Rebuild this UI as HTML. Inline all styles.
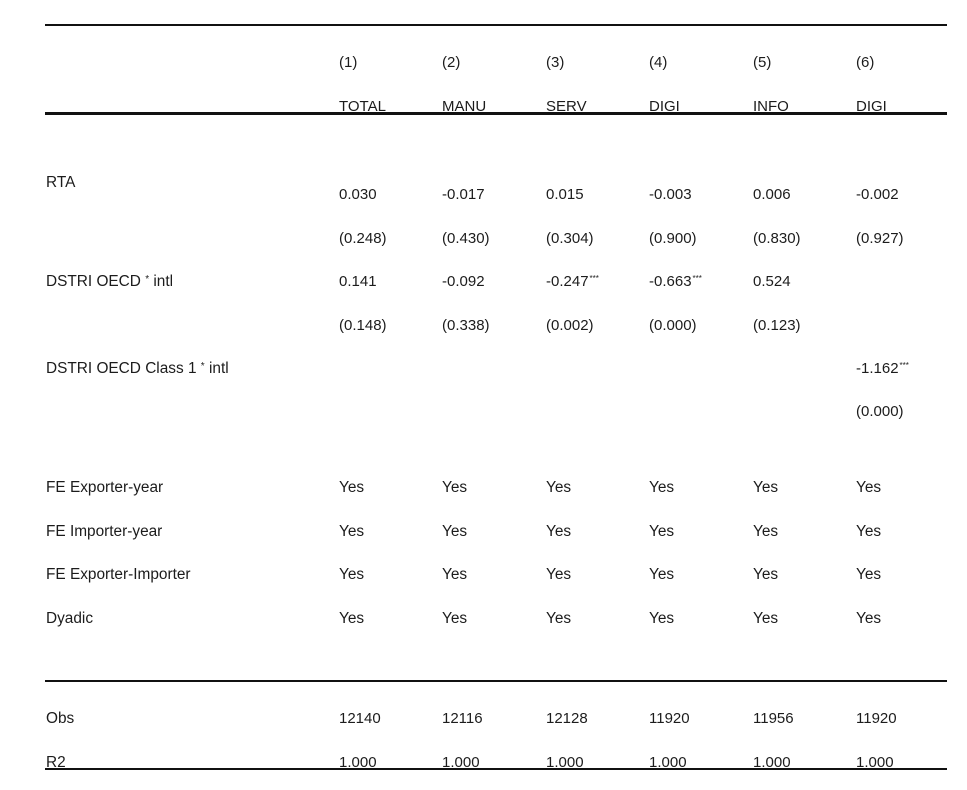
<!DOCTYPE html>
<html>
<head>
<meta charset="utf-8">
<style>
html,body{margin:0;padding:0;background:#fff;}
body{width:967px;height:790px;position:relative;overflow:hidden;font-family:"Liberation Sans",sans-serif;color:#1c1c1c;}
.t{position:absolute;line-height:20px;white-space:nowrap;font-size:15px;margin-top:2px;}
.l{font-size:15.4px;}
.n{font-size:15px;}
sup{font-size:8px;vertical-align:top;position:relative;top:-3px;margin-left:1px;}
.hr{position:absolute;left:45px;width:902px;height:2px;background:#111;}
</style>
</head>
<body>
<div class="hr" style="top:24px;"></div>
<div class="hr" style="top:112px;height:2.5px;"></div>
<div class="hr" style="top:680px;"></div>
<div class="hr" style="top:768px;"></div>

<!-- header -->
<div class="t n" style="left:339px;top:51px;">(1)</div>
<div class="t n" style="left:442px;top:51px;">(2)</div>
<div class="t n" style="left:546px;top:51px;">(3)</div>
<div class="t n" style="left:649px;top:51px;">(4)</div>
<div class="t n" style="left:753px;top:51px;">(5)</div>
<div class="t n" style="left:856px;top:51px;">(6)</div>

<div class="t n" style="left:339px;top:95px;">TOTAL</div>
<div class="t n" style="left:442px;top:95px;">MANU</div>
<div class="t n" style="left:546px;top:95px;">SERV</div>
<div class="t n" style="left:649px;top:95px;">DIGI</div>
<div class="t n" style="left:753px;top:95px;">INFO</div>
<div class="t n" style="left:856px;top:95px;">DIGI</div>

<!-- RTA -->
<div class="t l" style="left:46px;top:171px;">RTA</div>
<div class="t n" style="left:339px;top:183px;">0.030</div>
<div class="t n" style="left:442px;top:183px;">-0.017</div>
<div class="t n" style="left:546px;top:183px;">0.015</div>
<div class="t n" style="left:649px;top:183px;">-0.003</div>
<div class="t n" style="left:753px;top:183px;">0.006</div>
<div class="t n" style="left:856px;top:183px;">-0.002</div>

<div class="t n" style="left:339px;top:227px;">(0.248)</div>
<div class="t n" style="left:442px;top:227px;">(0.430)</div>
<div class="t n" style="left:546px;top:227px;">(0.304)</div>
<div class="t n" style="left:649px;top:227px;">(0.900)</div>
<div class="t n" style="left:753px;top:227px;">(0.830)</div>
<div class="t n" style="left:856px;top:227px;">(0.927)</div>

<!-- DSTRI -->
<div class="t l" style="left:46px;top:270px;">DSTRI OECD <span style="font-size:10px;position:relative;top:-4px;">*</span> intl</div>
<div class="t n" style="left:339px;top:270px;">0.141</div>
<div class="t n" style="left:442px;top:270px;">-0.092</div>
<div class="t n" style="left:546px;top:270px;">-0.247<sup>***</sup></div>
<div class="t n" style="left:649px;top:270px;">-0.663<sup>***</sup></div>
<div class="t n" style="left:753px;top:270px;">0.524</div>

<div class="t n" style="left:339px;top:314px;">(0.148)</div>
<div class="t n" style="left:442px;top:314px;">(0.338)</div>
<div class="t n" style="left:546px;top:314px;">(0.002)</div>
<div class="t n" style="left:649px;top:314px;">(0.000)</div>
<div class="t n" style="left:753px;top:314px;">(0.123)</div>

<!-- DSTRI class 1 -->
<div class="t l" style="left:46px;top:357px;">DSTRI OECD Class 1 <span style="font-size:10px;position:relative;top:-4px;">*</span> intl</div>
<div class="t n" style="left:856px;top:357px;">-1.162<sup>***</sup></div>
<div class="t n" style="left:856px;top:400px;">(0.000)</div>

<!-- FE -->
<div class="t l" style="left:46px;top:476px;">FE Exporter-year</div>
<div class="t l" style="left:46px;top:520px;">FE Importer-year</div>
<div class="t l" style="left:46px;top:563px;">FE Exporter-Importer</div>
<div class="t l" style="left:46px;top:607px;">Dyadic</div>

<div class="t l" style="left:339px;top:476px;">Yes</div>
<div class="t l" style="left:442px;top:476px;">Yes</div>
<div class="t l" style="left:546px;top:476px;">Yes</div>
<div class="t l" style="left:649px;top:476px;">Yes</div>
<div class="t l" style="left:753px;top:476px;">Yes</div>
<div class="t l" style="left:856px;top:476px;">Yes</div>

<div class="t l" style="left:339px;top:520px;">Yes</div>
<div class="t l" style="left:442px;top:520px;">Yes</div>
<div class="t l" style="left:546px;top:520px;">Yes</div>
<div class="t l" style="left:649px;top:520px;">Yes</div>
<div class="t l" style="left:753px;top:520px;">Yes</div>
<div class="t l" style="left:856px;top:520px;">Yes</div>

<div class="t l" style="left:339px;top:563px;">Yes</div>
<div class="t l" style="left:442px;top:563px;">Yes</div>
<div class="t l" style="left:546px;top:563px;">Yes</div>
<div class="t l" style="left:649px;top:563px;">Yes</div>
<div class="t l" style="left:753px;top:563px;">Yes</div>
<div class="t l" style="left:856px;top:563px;">Yes</div>

<div class="t l" style="left:339px;top:607px;">Yes</div>
<div class="t l" style="left:442px;top:607px;">Yes</div>
<div class="t l" style="left:546px;top:607px;">Yes</div>
<div class="t l" style="left:649px;top:607px;">Yes</div>
<div class="t l" style="left:753px;top:607px;">Yes</div>
<div class="t l" style="left:856px;top:607px;">Yes</div>

<!-- Obs / R2 -->
<div class="t l" style="left:46px;top:707px;">Obs</div>
<div class="t n" style="left:339px;top:707px;">12140</div>
<div class="t n" style="left:442px;top:707px;">12116</div>
<div class="t n" style="left:546px;top:707px;">12128</div>
<div class="t n" style="left:649px;top:707px;">11920</div>
<div class="t n" style="left:753px;top:707px;">11956</div>
<div class="t n" style="left:856px;top:707px;">11920</div>

<div class="t l" style="left:46px;top:751px;">R2</div>
<div class="t n" style="left:339px;top:751px;">1.000</div>
<div class="t n" style="left:442px;top:751px;">1.000</div>
<div class="t n" style="left:546px;top:751px;">1.000</div>
<div class="t n" style="left:649px;top:751px;">1.000</div>
<div class="t n" style="left:753px;top:751px;">1.000</div>
<div class="t n" style="left:856px;top:751px;">1.000</div>
</body>
</html>
